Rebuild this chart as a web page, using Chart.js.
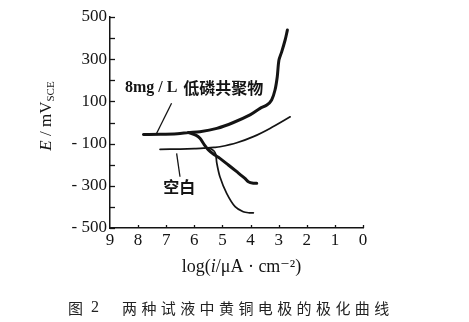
<!DOCTYPE html>
<html>
<head>
<meta charset="utf-8">
<script src="https://cdn.jsdelivr.net/npm/chart.js@4/dist/chart.umd.min.js"></script>
<style>
  html, body { margin: 0; padding: 0; background: #fff; }
  #wrap { width: 469px; height: 322px; position: relative; }
</style>
</head>
<body>
<div id="wrap"><canvas id="c"></canvas></div>
<script>
// Polarization curves of brass electrode: log(i) vs E
// 8 mg/L low-phosphorus copolymer, anodic branch (with the flat part near Ecorr)
const addAnoLogI = [7.81, 7.2, 6.6, 6.21, 5.80, 5.20, 4.61, 4.02, 3.66, 3.42, 3.25, 3.13, 3.05, 2.99, 2.89, 2.77, 2.69];
const addAnoE    = [-57, -56, -53, -48, -44, -28, 0, 36, 67, 83, 107, 154, 217, 296, 336, 391, 438];
// 8 mg/L low-phosphorus copolymer, cathodic branch
const addCatLogI = [6.21, 5.95, 5.80, 5.65, 5.50, 5.30, 5.09, 4.80, 4.49, 4.20, 4.08, 3.90, 3.78];
const addCatE    = [-48, -60, -75, -105, -130, -152, -170, -200, -233, -265, -281, -288, -288];
// Blank solution, anodic branch
const blankAnoLogI = [7.22, 6.5, 6.0, 5.62, 5.30, 5.09, 4.49, 3.90, 3.31, 2.59];
const blankAnoE    = [-127, -126, -124, -121, -118, -115, -96, -67, -28, 27];
// Blank solution, cathodic branch
const blankCatLogI = [5.45, 5.30, 5.24, 5.20, 5.09, 4.85, 4.55, 4.26, 4.05, 3.90];
const blankCatE    = [-121, -135, -150, -193, -257, -336, -399, -423, -428, -428];

// Axis ticks
const xTicks = [9, 8, 7, 6, 5, 4, 3, 2, 1, 0];
const yTicks = [500, 400, 300, 200, 100, 0, -100, -200, -300, -400, -500];
const yLabelled = [500, 300, 100, -100, -300, -500];

// Curve labels (data coordinates) and their leader lines
const addLabel = { parts: ['8mg', '/', 'L'], cn: '低磷共聚物', x: 8.47, y: 164 };
const addLeader = [[6.81, 91], [7.34, -51]];
const blankLabel = { text: '空白', x: 7.11, y: -306 };
const blankLeader = [[6.63, -146], [6.51, -257]];

const zip = (xs, ys) => xs.map((v, i) => ({ x: v, y: ys[i] }));
const INK = '#141414';
const SERIF = '"Liberation Serif", "DejaVu Serif", serif';
const CJK = '"Noto Sans CJK SC", sans-serif';

const lineStyle = (w) => ({
  borderColor: INK, borderWidth: w, pointRadius: 0, tension: 0.3,
  fill: false, borderCapStyle: 'round', borderJoinStyle: 'round'
});

// draw a run of [text, font, dy] pieces starting at (x, y); returns end x
function run(ctx, pieces, x, y, gap) {
  pieces.forEach(p => {
    ctx.font = p[1];
    ctx.fillText(p[0], x, y + (p[2] || 0));
    x += ctx.measureText(p[0]).width + (gap || 0);
  });
  return x;
}
function runWidth(ctx, pieces, gap) {
  let w = 0;
  pieces.forEach(p => { ctx.font = p[1]; w += ctx.measureText(p[0]).width + (gap || 0); });
  return w - (gap || 0);
}

const decor = {
  id: 'decor',
  afterDraw(chart) {
    const { ctx, scales: { x, y } } = chart;
    ctx.save();
    ctx.strokeStyle = INK;
    ctx.fillStyle = INK;
    // inward tick marks
    ctx.lineWidth = 1.3;
    yTicks.forEach(v => {
      const py = Math.round(y.getPixelForValue(v)) + 0.5;
      ctx.beginPath(); ctx.moveTo(x.left, py); ctx.lineTo(x.left + 5, py); ctx.stroke();
    });
    xTicks.forEach(v => {
      if (v === 9) return;
      const px = Math.round(x.getPixelForValue(v)) + 0.5;
      ctx.beginPath(); ctx.moveTo(px, y.bottom); ctx.lineTo(px, y.bottom - 3); ctx.stroke();
    });
    // leader lines
    ctx.lineWidth = 1.3;
    [addLeader, blankLeader].forEach(seg => {
      ctx.beginPath();
      ctx.moveTo(x.getPixelForValue(seg[0][0]), y.getPixelForValue(seg[0][1]));
      ctx.lineTo(x.getPixelForValue(seg[1][0]), y.getPixelForValue(seg[1][1]));
      ctx.stroke();
    });
    // curve labels
    ctx.textBaseline = 'middle';
    ctx.textAlign = 'left';
    const lx = x.getPixelForValue(addLabel.x), ly = y.getPixelForValue(addLabel.y);
    const f16 = 'bold 16px ' + SERIF;
    let ex = run(ctx, addLabel.parts.map(t => [t, f16]), lx, ly, 4);
    ctx.font = 'bold 16px ' + CJK;
    ctx.fillText(addLabel.cn, ex + 2, ly);
    ctx.font = 'bold 16px ' + CJK;
    ctx.fillText(blankLabel.text, x.getPixelForValue(blankLabel.x), y.getPixelForValue(blankLabel.y));

    // y axis title: E / mV with subscript SCE
    ctx.save();
    ctx.translate(47, 116);
    ctx.rotate(-Math.PI / 2);
    const yt = [['E', 'italic 17px ' + SERIF], [' / mV', '17px ' + SERIF], ['SCE', '11px ' + SERIF, 4]];
    run(ctx, yt, -runWidth(ctx, yt) / 2, 0);
    ctx.restore();

    // x axis title: log(i/μA·cm⁻²)
    const r18 = '18px ' + SERIF;
    const xt = [['log(', r18], ['i', 'italic 18px ' + SERIF], ['/μA', r18], [' · ', r18], ['cm', r18], ['⁻²', r18], [')', r18]];
    run(ctx, xt, 241.5 - runWidth(ctx, xt) / 2, 267);

    // figure caption
    ctx.fillStyle = '#222';
    ctx.font = '15px ' + CJK;
    ctx.fillText('图', 68, 308);
    ctx.font = '16px ' + SERIF;
    ctx.fillText('2', 91, 308);
    ctx.font = '15px ' + CJK;
    const cap = '两种试液中黄铜电极的极化曲线';
    let cxp = 122;
    for (const ch of cap) { ctx.fillText(ch, cxp, 308); cxp += 19.4; }
    ctx.restore();
  }
};

new Chart(document.getElementById('c'), {
  type: 'line',
  data: {
    datasets: [
      { data: zip(addAnoLogI, addAnoE), ...lineStyle(3) },
      { data: zip(addCatLogI, addCatE), ...lineStyle(3) },
      { data: zip(blankAnoLogI, blankAnoE), ...lineStyle(1.7) },
      { data: zip(blankCatLogI, blankCatE), ...lineStyle(1.7) }
    ]
  },
  options: {
    responsive: true,
    maintainAspectRatio: false,
    animation: false,
    layout: { padding: { left: 48, right: 106, top: 17, bottom: 64 } },
    plugins: { legend: { display: false }, tooltip: { enabled: false } },
    scales: {
      x: {
        type: 'linear', reverse: true, min: 0, max: 9,
        afterFit: s => { s.height = 30; },
        afterBuildTicks: s => { s.ticks = xTicks.map(v => ({ value: v })); },
        grid: { display: false, drawTicks: false },
        border: { display: true, color: INK, width: 1.5 },
        ticks: { color: INK, padding: 2, font: { family: SERIF, size: 17 }, maxRotation: 0, autoSkip: false }
      },
      y: {
        type: 'linear', min: -500, max: 500,
        afterFit: s => { s.width = 62; },
        afterBuildTicks: s => { s.ticks = yTicks.map(v => ({ value: v })); },
        grid: { display: false, drawTicks: false },
        border: { display: true, color: INK, width: 1.5 },
        ticks: {
          color: INK, padding: 3, autoSkip: false,
          font: { family: SERIF, size: 17 },
          callback: v => yLabelled.includes(v) ? String(v).replace('-', '- ') : ''
        }
      }
    }
  },
  plugins: [decor]
});
</script>
</body>
</html>
